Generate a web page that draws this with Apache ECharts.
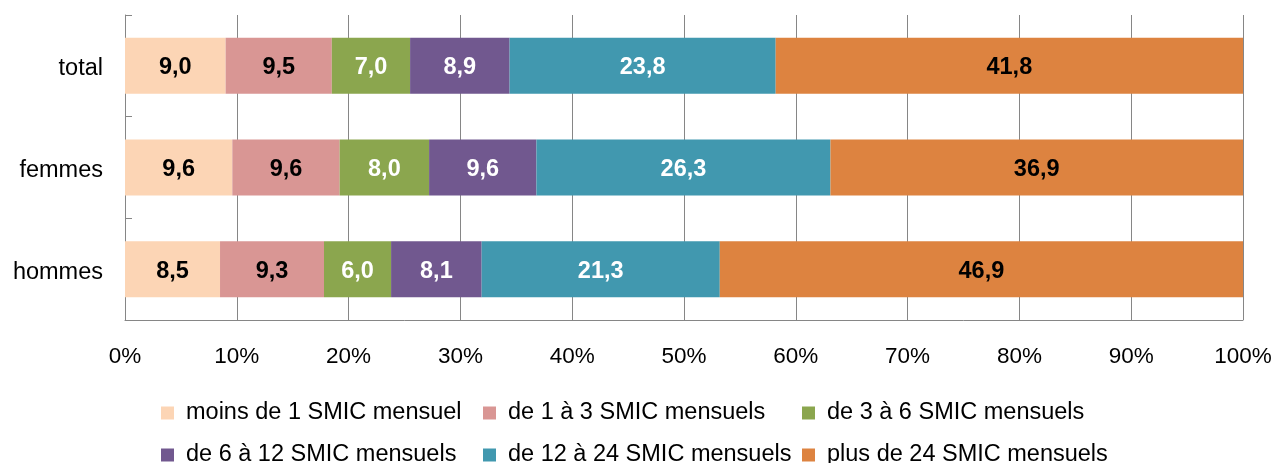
<!DOCTYPE html>
<html>
<head>
<meta charset="utf-8">
<script src="https://cdn.jsdelivr.net/npm/echarts@6/dist/echarts.min.js"></script>
<style>
  html, body { margin: 0; padding: 0; background: #fff; }
  #chart { width: 1276px; height: 463px; }
</style>
</head>
<body>
<div id="chart"></div>
<script>
// Groups shown on the vertical axis, top to bottom
const categories = ['total', 'femmes', 'hommes'];

// Income brackets (stack order, left to right)
const seriesNames = [
  'moins de 1 SMIC mensuel',
  'de 1 à 3 SMIC mensuels',
  'de 3 à 6 SMIC mensuels',
  'de 6 à 12 SMIC mensuels',
  'de 12 à 24 SMIC mensuels',
  'plus de 24 SMIC mensuels'
];

// Shares in %, one array per bracket, ordered as categories
const moins1 = [9.0, 9.6, 8.5];
const de1a3 = [9.5, 9.6, 9.3];
const de3a6 = [7.0, 8.0, 6.0];
const de6a12 = [8.9, 9.6, 8.1];
const de12a24 = [23.8, 26.3, 21.3];
const plus24 = [41.8, 36.9, 46.9];

// X axis ticks
const xTicks = [0, 10, 20, 30, 40, 50, 60, 70, 80, 90, 100];

const seriesValues = [moins1, de1a3, de3a6, de6a12, de12a24, plus24];
const colors = ['#FCD5B5', '#D99694', '#8BA64E', '#71588F', '#4198AF', '#DD8340'];
const labelColors = ['#000', '#000', '#fff', '#fff', '#fff', '#000'];

const FONT = '"Liberation Sans", Arial, sans-serif';
const GRAY = '#868686';

const legendLeft = [161, 483, 802];
const legendTop = [401, 443];

const legends = seriesNames.map((name, i) => ({
  data: [name],
  left: legendLeft[i % 3],
  top: legendTop[Math.floor(i / 3)],
  padding: 0,
  icon: 'rect',
  itemWidth: 13,
  itemHeight: 13,
  selectedMode: false,
  textStyle: {
    fontFamily: FONT,
    fontSize: 23.5,
    color: '#000',
    padding: [0, 0, 0, 7]
  }
}));

const chart = echarts.init(document.getElementById('chart'), null, { renderer: 'canvas' });

chart.setOption({
  animation: false,
  color: colors,
  legend: legends,
  grid: { left: 125, right: 33, top: 15, bottom: 143, containLabel: false },
  xAxis: {
    type: 'value',
    min: xTicks[0],
    max: xTicks[xTicks.length - 1],
    interval: xTicks[1] - xTicks[0],
    axisLine: { show: true, lineStyle: { color: GRAY, width: 1 } },
    axisTick: { show: false },
    splitLine: { show: true, lineStyle: { color: GRAY, width: 1 } },
    axisLabel: {
      formatter: '{value}%',
      fontFamily: FONT,
      fontSize: 22.5,
      color: '#000',
      margin: 25
    }
  },
  yAxis: {
    type: 'category',
    data: categories,
    inverse: true,
    axisLine: { show: true, lineStyle: { color: GRAY, width: 1 } },
    axisTick: { show: true, inside: true, length: 7, lineStyle: { color: GRAY, width: 1 } },
    splitLine: { show: false },
    axisLabel: {
      fontFamily: FONT,
      fontSize: 23.5,
      color: '#000',
      margin: 22,
      verticalAlign: 'top',
      lineHeight: 6
    }
  },
  series: seriesNames.map((name, i) => ({
    name: name,
    type: 'bar',
    stack: 'total',
    barWidth: 56,
    data: seriesValues[i],
    itemStyle: { color: colors[i] },
    label: {
      show: true,
      position: 'inside',
      offset: [0, 2],
      fontFamily: FONT,
      fontSize: 23.5,
      fontWeight: 'bold',
      color: labelColors[i],
      formatter: p => p.value.toFixed(1).replace('.', ',')
    }
  }))
});
</script>
</body>
</html>
